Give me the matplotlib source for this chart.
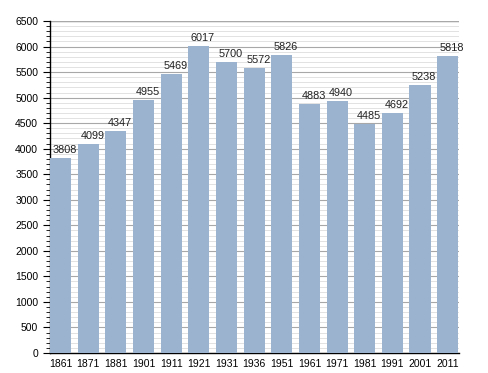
import numpy as np
import matplotlib.pyplot as plt
from matplotlib.ticker import MultipleLocator

years = ["1861", "1871", "1881", "1901", "1911", "1921", "1931", "1936",
         "1951", "1961", "1971", "1981", "1991", "2001", "2011"]
population = [3808, 4099, 4347, 4955, 5469, 6017, 5700, 5572,
              5826, 4883, 4940, 4485, 4692, 5238, 5818]

plt.rcParams['font.family'] = ['Liberation Sans', 'DejaVu Sans']

fig = plt.figure(figsize=(4.88, 3.73), dpi=100)
ax = fig.add_axes([50/488, 20/373, 409/488, 332/373])

x = np.arange(len(years))
w = 0.76
ax.bar(x, population, width=w, color='#9cb3cf', zorder=3)

for xi, v in zip(x, population):
    ax.text(xi + 0.15, v + 60, str(v), ha='center', va='bottom', fontsize=7.8,
            color='#222222', zorder=4)

ax.set_xlim(-w/2, len(years) - 1 + w/2 + 0.03)
ax.set_ylim(0, 6500)
ax.set_xticks(x)
ax.set_xticklabels(years, fontsize=7.5)
ax.tick_params(axis='x', length=0, pad=4)

ax.yaxis.set_major_locator(MultipleLocator(500))
ax.yaxis.set_minor_locator(MultipleLocator(100))
ax.tick_params(axis='y', which='major', length=5, labelsize=7.5, width=0.8)
ax.tick_params(axis='y', which='minor', length=3, width=0.6)

ax.grid(axis='y', which='major', color='#a8a8a8', linewidth=0.8, zorder=0)
ax.grid(axis='y', which='minor', color='#dddddd', linewidth=0.6, zorder=0)
ax.axhline(6500, color='#999999', linewidth=1.0, zorder=1)

for s in ['top', 'right']:
    ax.spines[s].set_visible(False)
ax.spines['left'].set_linewidth(1.0)
ax.spines['bottom'].set_linewidth(1.0)

fig.savefig('out.png', dpi=100)
